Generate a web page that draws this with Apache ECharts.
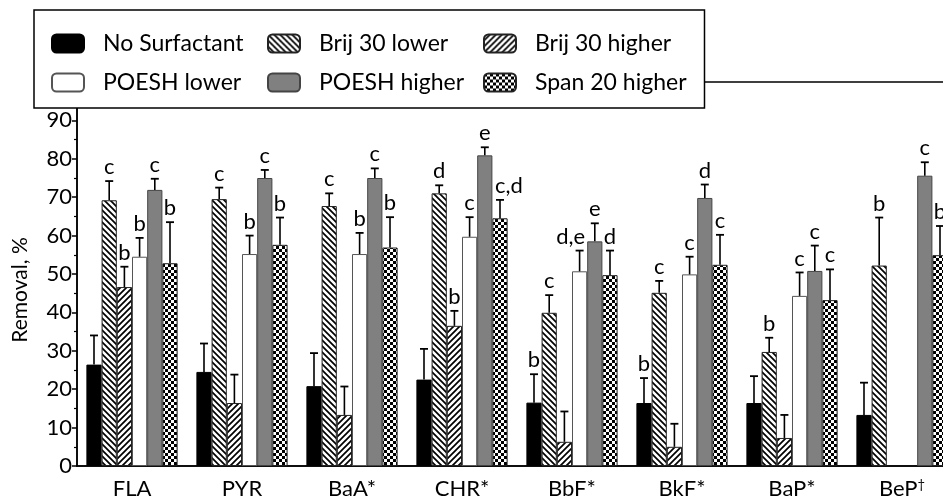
<!DOCTYPE html>
<html>
<head>
<meta charset="utf-8">
<script src="https://cdn.jsdelivr.net/npm/echarts/dist/echarts.min.js"></script>
<style>
  html, body { margin: 0; padding: 0; background: #fff; }
  #chart { width: 943px; height: 504px; }
</style>
</head>
<body>
<div id="chart"></div>
<script>
// categories and series values (Removal, %), error = +SD above the bar
var categories = ['FLA', 'PYR', 'BaA*', 'CHR*', 'BbF*', 'BkF*', 'BaP*', 'BeP†']
var seriesNames = ['No Surfactant', 'Brij 30 lower', 'Brij 30 higher', 'POESH lower', 'POESH higher', 'Span 20 higher']

var noSurf = [26.4, 24.5, 20.8, 22.5, 16.5, 16.4, 16.4, 13.3]
var brijLow = [69.2, 69.5, 67.7, 71.0, 39.9, 45.1, 29.7, 52.2]
var brijHigh = [46.6, 16.4, 13.3, 36.5, 6.3, 5.0, 7.3, null]
var poeshLow = [54.5, 55.2, 55.2, 59.7, 50.7, 49.9, 44.3, null]
var poeshHigh = [71.9, 75.0, 75.0, 80.9, 58.5, 69.8, 50.8, 75.6]
var span = [52.8, 57.6, 56.9, 64.5, 49.7, 52.4, 43.2, 54.9]

var noSurfErr = [7.6, 7.4, 8.6, 8.0, 7.4, 6.5, 7.0, 8.4]
var brijLowErr = [5.0, 3.0, 3.3, 2.1, 4.6, 3.1, 3.7, 12.5]
var brijHighErr = [5.3, 7.4, 7.4, 3.9, 7.9, 6.0, 6.0, null]
var poeshLowErr = [4.9, 4.8, 5.5, 5.1, 5.4, 4.6, 6.1, null]
var poeshHighErr = [2.9, 2.1, 2.5, 2.1, 4.7, 3.5, 6.6, 3.5]
var spanErr = [10.7, 7.1, 7.9, 4.8, 6.4, 7.8, 8.0, 7.6]

// significance letters
var noSurfSig = ['', '', '', '', 'b', 'b', '', '']
var brijLowSig = ['c', 'c', 'c', 'd', 'c', 'c', 'b', 'b']
var brijHighSig = ['b', '', '', 'b', '', '', '', '']
var poeshLowSig = ['b', 'b', 'b', 'c', 'd,e', 'c', 'c', '']
var poeshHighSig = ['c', 'c', 'c', 'e', 'e', 'd', 'c', 'c']
var spanSig = ['b', 'b', 'b', 'c,d', 'd', 'c', 'c', 'b']

var yTicks = [0, 10, 20, 30, 40, 50, 60, 70, 80, 90]

var values = [noSurf, brijLow, brijHigh, poeshLow, poeshHigh, span]
var errs = [noSurfErr, brijLowErr, brijHighErr, poeshLowErr, poeshHighErr, spanErr]
var sigs = [noSurfSig, brijLowSig, brijHighSig, poeshLowSig, poeshHighSig, spanSig]

var BAR_W = 15.2
var FONT = 'Lato'

function hatch(dir) {
  var s = 6
  var c = document.createElement('canvas')
  c.width = s
  c.height = s
  var g = c.getContext('2d')
  g.fillStyle = '#fff'
  g.fillRect(0, 0, s, s)
  g.strokeStyle = '#000'
  g.lineWidth = 1.7
  g.beginPath()
  if (dir > 0) {
    g.moveTo(0, s); g.lineTo(s, 0)
    g.moveTo(-2, 2); g.lineTo(2, -2)
    g.moveTo(s - 2, s + 2); g.lineTo(s + 2, s - 2)
  } else {
    g.moveTo(0, 0); g.lineTo(s, s)
    g.moveTo(s - 2, -2); g.lineTo(s + 2, 2)
    g.moveTo(-2, s - 2); g.lineTo(2, s + 2)
  }
  g.stroke()
  return c
}

function checker() {
  var c = document.createElement('canvas')
  c.width = 6
  c.height = 6
  var g = c.getContext('2d')
  g.fillStyle = '#fff'
  g.fillRect(0, 0, 6, 6)
  g.fillStyle = '#000'
  g.fillRect(0, 0, 3, 3)
  g.fillRect(3, 3, 3, 3)
  return c
}

var fills = [
  { color: '#000', border: '#000' },
  { color: { image: hatch(-1), repeat: 'repeat' }, border: '#222' },
  { color: { image: hatch(1), repeat: 'repeat' }, border: '#222' },
  { color: '#fff', border: '#555' },
  { color: '#808080', border: '#444' },
  { color: { image: checker(), repeat: 'repeat' }, border: '#222' }
]

// small nudges for the two-letter labels, as in the original figure
function sigShift(sig) {
  if (sig === 'c,d') return 9
  if (sig === 'd,e') return -9
  return 0
}

var errData = []
values.forEach(function (arr, s) {
  arr.forEach(function (v, i) {
    if (v == null) return
    errData.push([i, s, v, v + errs[s][i]])
  })
})

var series = seriesNames.map(function (name, s) {
  return {
    name: name,
    type: 'bar',
    barWidth: BAR_W,
    barGap: '0%',
    itemStyle: {
      color: fills[s].color,
      borderColor: fills[s].border,
      borderWidth: 1
    },
    emphasis: { disabled: true },
    data: values[s]
  }
})

series.push({
  name: 'err',
  type: 'custom',
  encode: { x: 0, y: 3 },
  z: 5,
  renderItem: function (params, api) {
    var ci = api.value(0)
    var si = api.value(1)
    var p0 = api.coord([ci, api.value(2)])
    var p1 = api.coord([ci, api.value(3)])
    var x = p0[0] + (si - 2.5) * BAR_W
    var children = [
      { type: 'line', shape: { x1: x, y1: p0[1], x2: x, y2: p1[1] }, style: { stroke: '#000', lineWidth: 1.6 } },
      { type: 'line', shape: { x1: x - 4, y1: p1[1], x2: x + 4, y2: p1[1] }, style: { stroke: '#000', lineWidth: 1.8 } }
    ]
    var sig = sigs[si][ci]
    if (sig) {
      children.push({
        type: 'text',
        style: {
          text: sig, x: x + sigShift(sig), y: p1[1] - 3, align: 'center', verticalAlign: 'bottom',
          fontSize: 22, fontFamily: FONT, fill: '#000'
        }
      })
    }
    return { type: 'group', children: children }
  },
  data: errData
})

var myChart = echarts.init(document.getElementById('chart'))
var option = {
  animation: false,
  backgroundColor: '#fff',
  textStyle: { fontFamily: FONT, color: '#000' },
  grid: {
    left: 77,
    top: 82,
    width: 880,
    height: 384,
    outerBoundsMode: 'none',
    containLabel: false,
    show: true,
    borderColor: '#000',
    borderWidth: 1.5,
    backgroundColor: 'transparent'
  },
  legend: {
    data: seriesNames,
    left: 34,
    top: 10,
    width: 640,
    padding: [22, 18, 14, 17],
    itemWidth: 32,
    itemHeight: 18,
    itemGap: 16,
    backgroundColor: '#fff',
    borderColor: '#000',
    borderWidth: 1.5,
    z: 10,
    selectedMode: false,
    textStyle: {
      fontSize: 23,
      fontFamily: FONT,
      color: '#000',
      width: 148,
      overflow: 'none',
      lineHeight: 23,
      padding: [0, 0, 0, 14]
    }
  },
  xAxis: {
    type: 'category',
    data: categories,
    axisLine: { lineStyle: { color: '#000', width: 1.5 } },
    axisTick: { alignWithLabel: true, length: 6, lineStyle: { color: '#000', width: 1.5 } },
    axisLabel: {
      interval: 0,
      margin: 12,
      fontSize: 22,
      fontFamily: FONT,
      color: '#000',
      formatter: function (v) {
        return v.indexOf('†') >= 0 ? v.replace('†', '') + '{sup|†}' : v
      },
      rich: {
        sup: { fontSize: 13, fontFamily: FONT, color: '#000', verticalAlign: 'top' }
      }
    }
  },
  yAxis: {
    type: 'value',
    min: 0,
    max: 100,
    interval: 10,
    axisLine: { show: true, lineStyle: { color: '#000', width: 1.5 } },
    axisTick: { show: true, length: 5, lineStyle: { color: '#000', width: 1.5 } },
    minorTick: { show: true, splitNumber: 2, length: 3, lineStyle: { color: '#000', width: 1.2 } },
    splitLine: { show: false },
    axisLabel: {
      margin: 5,
      fontSize: 22,
      fontFamily: FONT,
      color: '#000',
      formatter: function (v) {
        return yTicks.indexOf(v) >= 0 ? String(v) : ''
      }
    }
  },
  graphic: [
    {
      type: 'text',
      x: 20,
      y: 290,
      rotation: Math.PI / 2,
      style: {
        text: 'Removal, %', fontSize: 21, fontFamily: FONT, fill: '#000',
        align: 'center', verticalAlign: 'middle'
      }
    }
  ],
  series: series
}
myChart.setOption(option)
</script>
</body>
</html>
